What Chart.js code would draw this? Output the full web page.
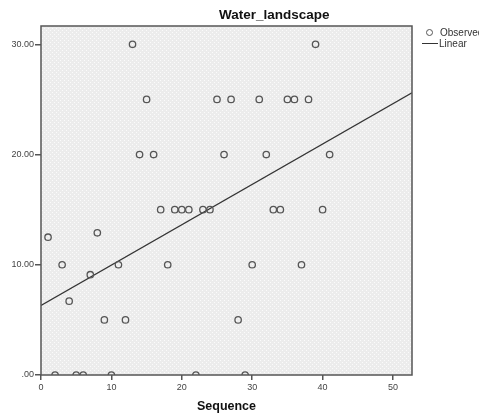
<!DOCTYPE html>
<html><head><meta charset="utf-8">
<script src="https://cdn.jsdelivr.net/npm/chart.js@4.4.1/dist/chart.umd.min.js"></script>
<style>
html,body{margin:0;padding:0;background:#fff;}
#wrap{position:relative;width:479px;height:414px;font-family:"Liberation Sans",Arial,sans-serif;overflow:hidden}
#title{position:absolute;left:219px;top:8px;font-weight:bold;font-size:13.5px;line-height:1;color:#111}
.leg{position:absolute;left:440px;font-size:10px;line-height:1;color:#333;white-space:nowrap}
.mk{position:absolute}
</style></head>
<body>
<div id="wrap">
  <canvas id="chart" width="479" height="414"></canvas>
  <div id="title">Water_landscape</div>
  <div class="mk" style="left:426px;top:29px;width:5px;height:5px;border:1.2px solid #555;border-radius:50%"></div>
  <div class="leg" style="top:28px">Observed</div>
  <div class="mk" style="left:422px;top:43px;width:16px;height:1.3px;background:#333"></div>
  <div class="leg" style="top:39px;left:439px">Linear</div>
</div>
<script>
// Werte
const sequence = [1,2,3,4,5,6,7,8,9,10,11,12,13,14,15,16,17,18,19,20,21,22,23,24,25,26,27,28,29,30,31,32,33,34,35,36,37,38,39,40,41];
const water = [12.5,0,10,6.7,0,0,9.1,12.9,5,0,10,5,30,20,25,20,15,10,15,15,15,0,15,15,25,20,25,5,0,10,25,20,15,15,25,25,10,25,30,15,20];
const fitX = [0, 52.7];
const fitY = [6.31, 25.6];

const observed = sequence.map((x,i)=>({x, y: water[i]}));
const linear = fitX.map((x,i)=>({x, y: fitY[i]}));

// Hintergrund mit Punktmuster
const pat = document.createElement("canvas");
pat.width = 4; pat.height = 4;
const pc = pat.getContext("2d");
pc.fillStyle = "#ececec"; pc.fillRect(0,0,4,4);
pc.fillStyle = "#fbfbfb"; pc.fillRect(0,0,1,1); pc.fillRect(2,2,1,1);

const frame = {
  id: "frame",
  beforeDatasetsDraw(c){
    const {ctx, chartArea:a} = c;
    ctx.save();
    ctx.fillStyle = ctx.createPattern(pat, "repeat");
    ctx.fillRect(a.left, a.top, a.right-a.left, a.bottom-a.top);
    ctx.restore();
  },
  afterDatasetsDraw(c){
    const {ctx, chartArea:a} = c;
    ctx.save();
    ctx.strokeStyle = "#555"; ctx.lineWidth = 1.5;
    ctx.strokeRect(a.left, a.top, a.right-a.left, a.bottom-a.top);
    ctx.restore();
  }
};

const tickFont = {family:"'Liberation Sans', Arial, sans-serif", size:9};

new Chart(document.getElementById("chart"), {
  type: "scatter",
  data: {
    datasets: [
      {label:"Observed", data:observed, pointRadius:3.2, pointHoverRadius:3.2,
       borderColor:"#555", backgroundColor:"rgba(0,0,0,0)", borderWidth:1.3},
      {label:"Linear", data:linear, showLine:true, pointRadius:0,
       borderColor:"#333", borderWidth:1.3}
    ]
  },
  options: {
    responsive:false, animation:false,
    layout:{padding:{top:26, right:67, left:0, bottom:0}},
    plugins:{legend:{display:false}, tooltip:{enabled:false}, title:{display:false}},
    scales:{
      x:{
        type:"linear", min:0, max:52.7,
        ticks:{stepSize:10, includeBounds:false, font:tickFont, color:"#444", padding:2, maxRotation:0},
        grid:{drawOnChartArea:false, drawTicks:true, tickLength:5, color:"#555", lineWidth:1.5},
        border:{display:false},
        title:{display:true, text:"Sequence", font:{family:"'Liberation Sans', Arial, sans-serif", size:12.5, weight:"bold"}, color:"#111", padding:{top:0,bottom:0}},
        afterFit(s){ s.height = 39; }
      },
      y:{
        min:0, max:31.66,
        ticks:{stepSize:10, includeBounds:false, font:tickFont, color:"#444", padding:1,
          callback:v => v===0 ? ".00" : v.toFixed(2)},
        grid:{drawOnChartArea:false, drawTicks:true, tickLength:6, color:"#555", lineWidth:1.5},
        border:{display:false},
        afterFit(s){ s.width = 41; }
      }
    }
  },
  plugins:[frame]
});
</script>
</body></html>
